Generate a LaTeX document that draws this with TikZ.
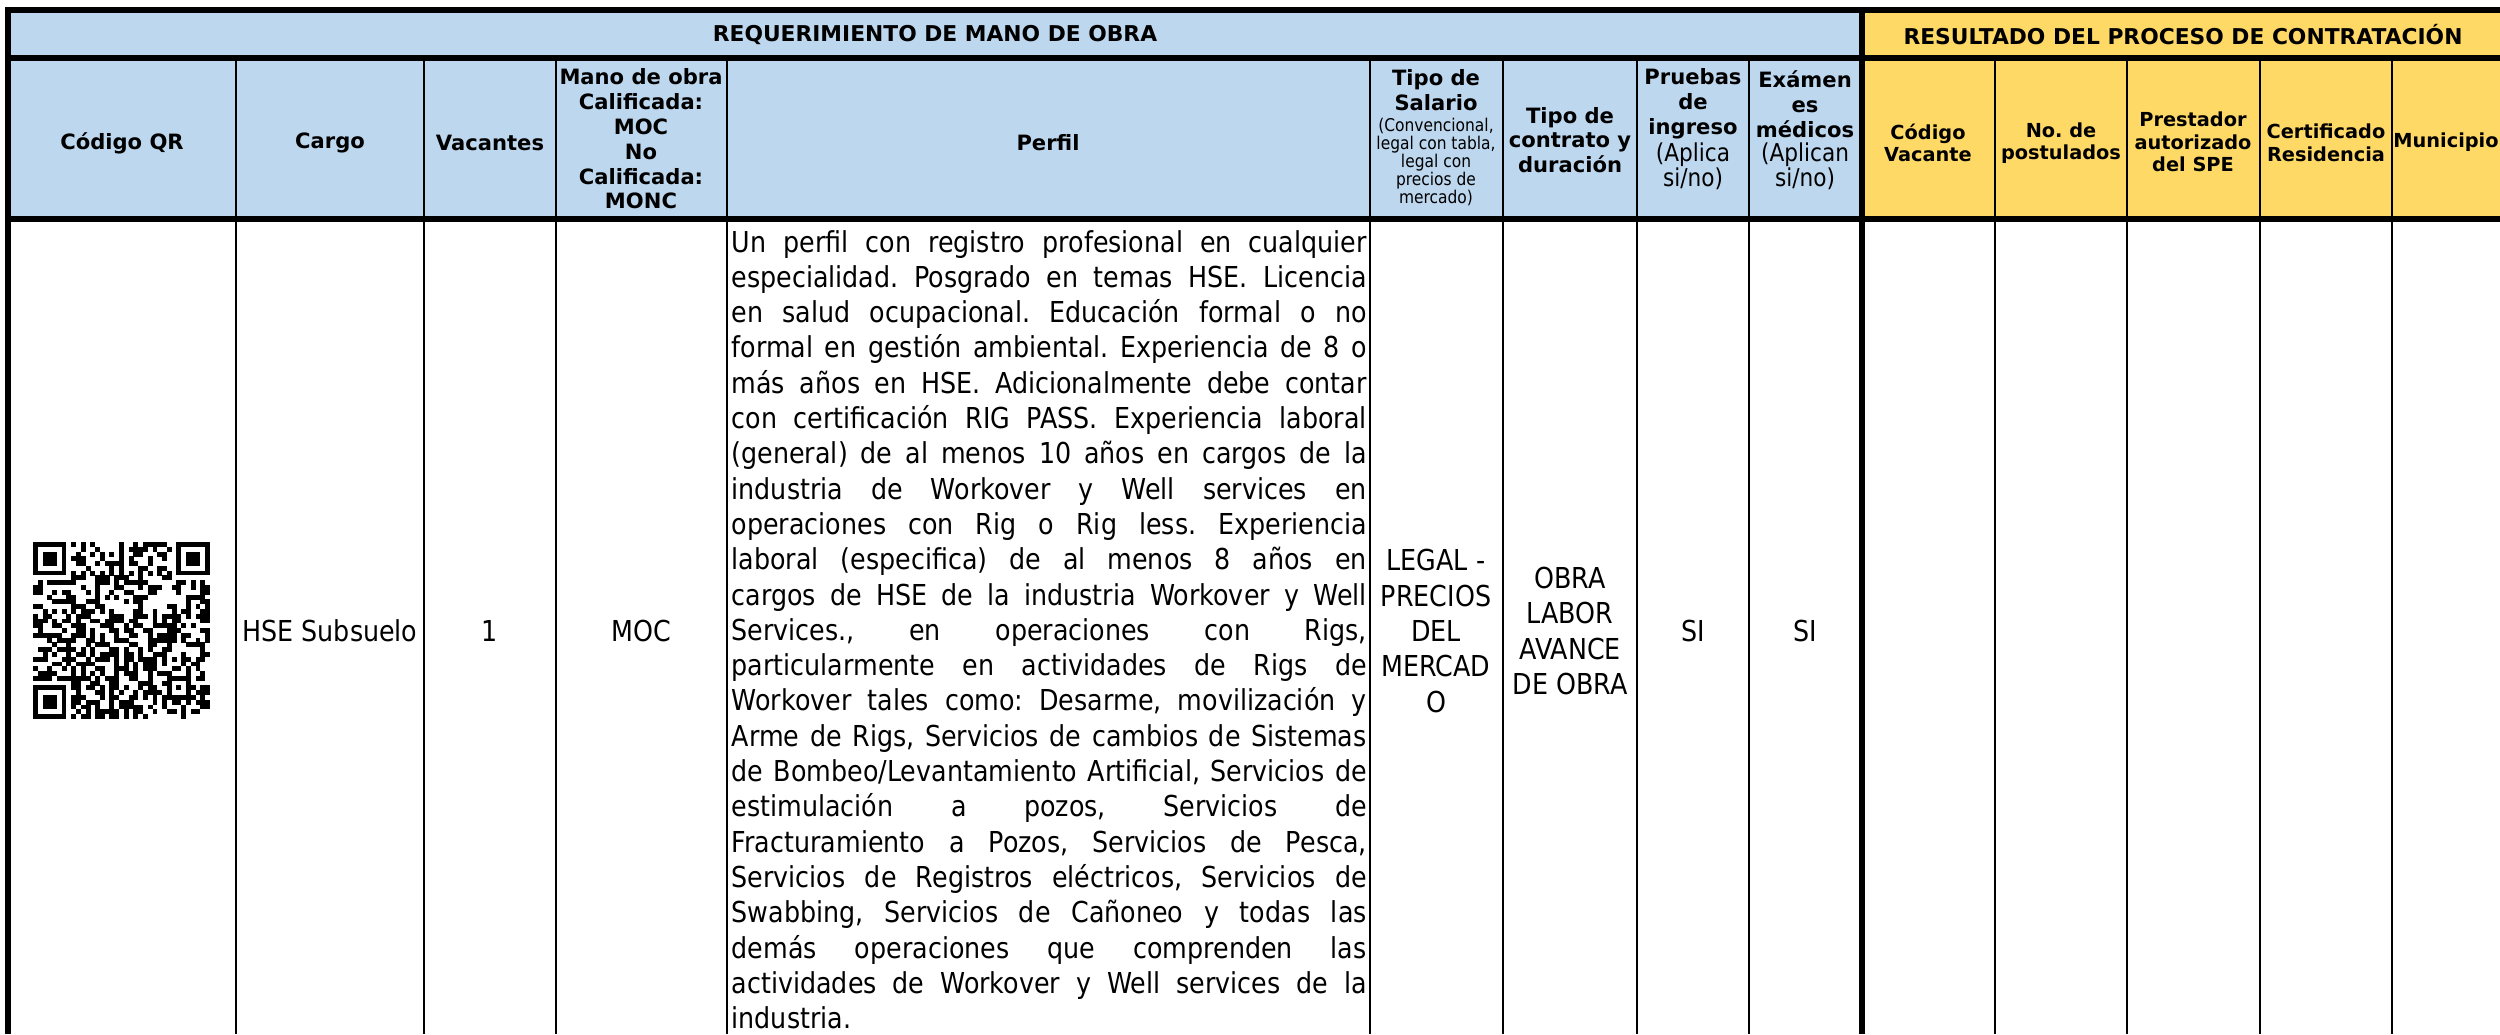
\documentclass[tikz,border=0pt]{standalone}
\usepackage{fontspec}
\setmainfont{DejaVu Sans}
\newfontfamily\tahoma[FakeStretch=0.88]{DejaVu Sans}
\usepackage[dvipsnames]{xcolor}
\definecolor{azulcab}{HTML}{BDD7EE}
\definecolor{amarillocab}{HTML}{FFD966}
\newcommand{\qrmod}{4.78}
\newcommand{\apretado}{\lineskiplimit-10pt\relax}
\tikzset{
  titulo/.style={font=\bfseries\fontsize{6.2}{7.4}\selectfont, inner sep=0pt},
  cabecera/.style={font=\bfseries\fontsize{6}{7.06}\selectfont, align=center, inner sep=0pt},
  cabamarilla/.style={font=\bfseries\fontsize{5.5}{6.4}\selectfont, align=center, inner sep=0pt},
  nota/.style={font=\tahoma\fontsize{5}{5.15}\selectfont\apretado, align=center, inner sep=0pt},
  notasino/.style={font=\tahoma\fontsize{7}{7.06}\selectfont, align=center, inner sep=0pt},
  celda/.style={font=\tahoma\fontsize{8.2}{10.05}\selectfont, align=center, inner sep=0pt},
  parrafo/.style={font=\tahoma\fontsize{8.2}{10.05}\selectfont, inner sep=0pt, anchor=base west},
  borde/.style={line width=0.55mm},
  rejilla/.style={line width=0.2mm}
}
\begin{document}
\frenchspacing
\begin{tikzpicture}[x=0.1mm, y=-0.1mm]
\useasboundingbox (0,0) rectangle (2500,1034);
\fill[white] (0,0) rectangle (2500,1034);

% fondos de las cabeceras
\fill[azulcab] (8,10) rectangle (1862,219);
\fill[amarillocab] (1862,10) rectangle (2500,219);

% rejilla de la tabla
\foreach \x in {236,424,556,727,1370,1503,1637,1749,1995,2127,2260,2392}
  \draw[rejilla] (\x,58) -- (\x,1034);
\draw[borde] (8,1034) -- (8,10) -- (2500,10);
\draw[borde] (8,58) -- (2500,58);
\draw[borde] (8,219) -- (2500,219);
\draw[borde] (1862,10) -- (1862,1034);

% cabecera principal
\node[titulo] (requerimiento) at (935,35) {REQUERIMIENTO DE MANO DE OBRA};
\node[titulo] (resultado) at (2183,35) {RESULTADO DEL PROCESO DE CONTRATACIÓN};

% cabeceras de columna
\node[cabecera] (codigoqr) at (122,143) {Código QR};
\node[cabecera] (cargo) at (330,143) {Cargo};
\node[cabecera] (vacantes) at (490,143) {Vacantes};
\node[cabecera] (manoobra) at (641,139) {Mano de obra\\Calificada:\\MOC\\No\\Calificada:\\MONC};
\node[cabecera] (perfil) at (1048,143) {Perfil};
\node[cabecera] (salario) at (1436,90) {Tipo de\\Salario};
\node[nota] (salarionota) at (1436,162) {(Convencional,\\legal con tabla,\\legal con\\precios de\\mercado)};
\node[cabecera] (contrato) at (1570,140) {Tipo de\\contrato y\\duración};
\node[cabecera] (pruebas) at (1693,104) {Pruebas\\de\\ingreso};
\node[notasino] (pruebasnota) at (1693,166) {(Aplica\\si/no)};
\node[cabecera] (examenes) at (1805,104) {Exámen\\es\\médicos};
\node[notasino] (examenesnota) at (1805,166) {(Aplican\\si/no)};
\node[cabamarilla] (codvacante) at (1928,143) {Código\\Vacante};
\node[cabamarilla] (postulados) at (2061,143) {No. de\\postulados};
\node[cabamarilla] (prestador) at (2193,142) {Prestador\\autorizado\\del SPE};
\node[cabamarilla] (certificado) at (2326,143) {Certificado\\Residencia};
\node[cabamarilla] (municipio) at (2446,142) {Municipio};

% codigo QR
\pgfmathsetseed{17}
\foreach \i in {0,...,36}{
  \foreach \j in {0,...,36}{
    \pgfmathtruncatemacro\qrzona{((\i<8)&&(\j<8))||((\i>28)&&(\j<8))||((\i<8)&&(\j>28))||((\i>27)&&(\i<33)&&(\j>27)&&(\j<33))}
    \pgfmathtruncatemacro\qrbit{((\i==6)||(\j==6)) ? (1-mod(\i+\j,2)) : (rnd<0.5)}
    \ifnum\qrzona=0 \ifnum\qrbit=1
      \fill (33+\i*\qrmod,542+\j*\qrmod) rectangle ++(4.95,4.95);
    \fi\fi
  }
}
\foreach \fx/\fy in {0/0,30/0,0/30}{
  \fill (33+\fx*\qrmod,542+\fy*\qrmod) rectangle ++(7*\qrmod,7*\qrmod);
  \fill[white] (33+\fx*\qrmod+\qrmod,542+\fy*\qrmod+\qrmod) rectangle ++(5*\qrmod,5*\qrmod);
  \fill (33+\fx*\qrmod+2*\qrmod,542+\fy*\qrmod+2*\qrmod) rectangle ++(3*\qrmod,3*\qrmod);
}
\fill (33+28*\qrmod,542+28*\qrmod) rectangle ++(5*\qrmod,5*\qrmod);
\fill[white] (33+29*\qrmod,542+29*\qrmod) rectangle ++(3*\qrmod,3*\qrmod);
\fill (33+30*\qrmod,542+30*\qrmod) rectangle ++(\qrmod,\qrmod);

% celdas de la fila
\node[celda] (hse) at (330,631) {HSE Subsuelo};
\node[celda] (nvacantes) at (490,631) {1};
\node[celda] (moc) at (641,631) {MOC};
\node[celda] (legal) at (1436,631) {LEGAL -\\PRECIOS\\DEL\\MERCAD\\O};
\node[celda] (obralabor) at (1570,631) {OBRA\\LABOR\\AVANCE\\DE OBRA};
\node[celda] (pruebassi) at (1693,631) {SI};
\node[celda] (examenessi) at (1805,631) {SI};

% texto del perfil, justificado renglon a renglon
\foreach \renglon [count=\n from 0] in {
  {Un perfil con registro profesional en cualquier},
  {especialidad. Posgrado en temas HSE. Licencia},
  {en salud ocupacional. Educación formal o no},
  {formal en gestión ambiental. Experiencia de 8 o},
  {más años en HSE. Adicionalmente debe contar},
  {con certificación RIG PASS. Experiencia laboral},
  {(general) de al menos 10 años en cargos de la},
  {industria de Workover y Well services en},
  {operaciones con Rig o Rig less. Experiencia},
  {laboral (especifica) de al menos 8 años en},
  {cargos de HSE de la industria Workover y Well},
  {Services., en operaciones con Rigs,},
  {particularmente en actividades de Rigs de},
  {Workover tales como: Desarme, movilización y},
  {Arme de Rigs, Servicios de cambios de Sistemas},
  {de Bombeo/Levantamiento Artificial, Servicios de},
  {estimulación a pozos, Servicios de},
  {Fracturamiento a Pozos, Servicios de Pesca,},
  {Servicios de Registros eléctricos, Servicios de},
  {Swabbing, Servicios de Cañoneo y todas las},
  {demás operaciones que comprenden las},
  {actividades de Workover y Well services de la}}
  \node[parrafo] (perfil-\n) at (731,252+35.3*\n) {\makebox[63.5mm][s]{\renglon}};
\node[parrafo] (perfil-fin) at (731,252+35.3*22) {industria.};

\end{tikzpicture}
\end{document}
